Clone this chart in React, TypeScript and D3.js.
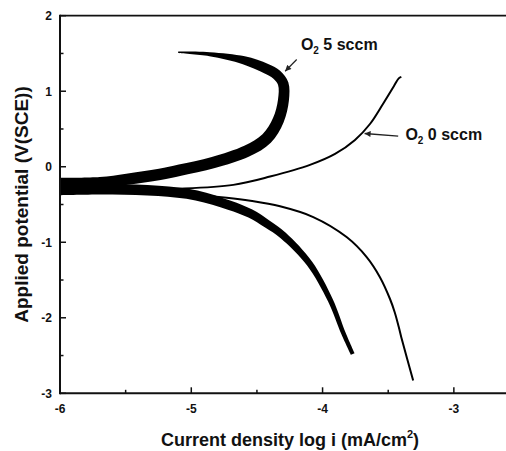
import { useMemo } from 'react';
import * as d3 from 'd3';

const W = 506,
  H = 451;
const FONT = 'Liberation Sans, Arial, Helvetica, sans-serif';

// O2 5 sccm, anodic branch (log i, E)
const anodic5LogI = [-6.0, -5.695, -5.49, -5.24, -5.086, -4.832, -4.578, -4.426, -4.337, -4.298, -4.3, -4.35, -4.43, -4.6, -4.86, -5.1];
const anodic5E = [-0.22, -0.21, -0.165, -0.1, -0.045, 0.056, 0.206, 0.374, 0.617, 0.882, 1.1, 1.22, 1.3, 1.41, 1.49, 1.515];
// O2 5 sccm, cathodic branch
const cathodic5LogI = [-6.0, -5.6, -5.25, -4.96, -4.71, -4.55, -4.42, -4.3, -4.1, -3.94, -3.84, -3.77];
const cathodic5E = [-0.31, -0.3, -0.32, -0.38, -0.51, -0.62, -0.76, -0.91, -1.28, -1.77, -2.21, -2.48];
// O2 0 sccm, anodic branch
const anodic0LogI = [-6.0, -5.5, -5.086, -4.68, -4.4, -4.096, -3.905, -3.753, -3.639, -3.54, -3.456, -3.42, -3.4];
const anodic0E = [-0.3, -0.3, -0.29, -0.24, -0.13, 0.024, 0.169, 0.354, 0.566, 0.831, 1.069, 1.17, 1.19];
// O2 0 sccm, cathodic branch
const cathodic0LogI = [-6.0, -5.5, -5.0, -4.73, -4.55, -4.324, -4.071, -3.817, -3.664, -3.563, -3.487, -3.45, -3.42, -3.4, -3.31];
const cathodic0E = [-0.33, -0.34, -0.37, -0.41, -0.45, -0.524, -0.666, -0.931, -1.196, -1.462, -1.748, -1.93, -2.12, -2.26, -2.83];

const xMajor = [-6, -5, -4, -3];
const xMinor = [-5.5, -4.5, -3.5];
const yMajor = [-3, -2, -1, 0, 1, 2];
const yMinor = [-2.5, -1.5, -0.5, 0.5, 1.5];

export default function App() {
  const x = useMemo(() => d3.scaleLinear().domain([-6, -2.5]).range([60, 519.5]), []);
  const y = useMemo(() => d3.scaleLinear().domain([-3, 2]).range([393.3, 15.7]), []);

  const line = d3.line().curve(d3.curveCatmullRom);

  // thick (scattered) curve drawn as a ribbon whose width follows the path
  const ribbon = (xs, ys, widthAt) => {
    const pts = xs.map((v, i) => [x(v), y(ys[i])]);
    const cum = [0];
    for (let i = 1; i < pts.length; i++) {
      cum.push(cum[i - 1] + Math.hypot(pts[i][0] - pts[i - 1][0], pts[i][1] - pts[i - 1][1]));
    }
    const total = cum[cum.length - 1];
    const left = [],
      right = [];
    pts.forEach((p, i) => {
      const a = pts[Math.max(0, i - 1)];
      const b = pts[Math.min(pts.length - 1, i + 1)];
      let tx = b[0] - a[0],
        ty = b[1] - a[1];
      const L = Math.hypot(tx, ty);
      tx /= L;
      ty /= L;
      const w = widthAt(cum[i] / total) / 2;
      left.push([p[0] - ty * w, p[1] + tx * w]);
      right.push([p[0] + ty * w, p[1] - tx * w]);
    });
    return line(left) + 'L' + line(right.reverse()).slice(1) + 'Z';
  };

  const anodic5Width = d3
    .scaleLinear()
    .domain([0, 0.35, 0.53, 0.66, 0.775, 0.83, 0.92, 1])
    .range([11, 11.5, 12, 11, 10, 8, 4, 1.5])
    .clamp(true);
  const cathodic5Width = d3
    .scaleLinear()
    .domain([0, 0.35, 0.55, 0.75, 1])
    .range([10, 10.5, 8.5, 6, 4])
    .clamp(true);

  const thin = (xs, ys) => line(xs.map((v, i) => [x(v), y(ys[i])]));

  const xAxisEnd = W;

  return (
    <svg
      width={W}
      height={H}
      style={{ position: 'absolute', left: 0, top: 0, background: '#fff' }}
      fontFamily={FONT}
    >
      <defs>
        <marker
          id="ah"
          viewBox="0 0 10 10"
          refX={10}
          refY={5}
          markerUnits="userSpaceOnUse"
          markerWidth={8}
          markerHeight={6}
          orient="auto"
        >
          <path d="M0,0 L10,5 L0,10 z" fill="#222" />
        </marker>
      </defs>

      {/* curves */}
      <path d={ribbon(anodic5LogI, anodic5E, anodic5Width)} fill="#000" />
      <path d={ribbon(cathodic5LogI, cathodic5E, cathodic5Width)} fill="#000" />
      <path d={thin(anodic0LogI, anodic0E)} fill="none" stroke="#000" strokeWidth={2} />
      <path d={thin(cathodic0LogI, cathodic0E)} fill="none" stroke="#000" strokeWidth={2} />

      {/* frame */}
      <line x1={x(-6)} x2={xAxisEnd} y1={y(2)} y2={y(2)} stroke="#111" strokeWidth={1.8} />
      <line x1={x(-6)} x2={xAxisEnd} y1={y(-3)} y2={y(-3)} stroke="#111" strokeWidth={2} />
      <line x1={x(-6)} x2={x(-6)} y1={y(2) - 0.9} y2={y(-3) + 1} stroke="#111" strokeWidth={2} />

      {/* x ticks */}
      {xMajor.map(t => (
        <g key={'xm' + t}>
          <line x1={x(t)} x2={x(t)} y1={y(-3)} y2={y(-3) - 6} stroke="#111" strokeWidth={1.5} />
          <text x={x(t)} y={413} textAnchor="middle" fontSize={12} fontWeight="bold" fill="#111">
            {t}
          </text>
        </g>
      ))}
      {xMinor.map(t => (
        <line key={'xn' + t} x1={x(t)} x2={x(t)} y1={y(-3)} y2={y(-3) - 3.5} stroke="#111" strokeWidth={1.5} />
      ))}

      {/* y ticks */}
      {yMajor.map(t => (
        <g key={'ym' + t}>
          <line x1={x(-6)} x2={x(-6) + 6} y1={y(t)} y2={y(t)} stroke="#111" strokeWidth={1.5} />
          <text x={52} y={y(t) + 4.3} textAnchor="end" fontSize={12} fontWeight="bold" fill="#111">
            {t}
          </text>
        </g>
      ))}
      {yMinor.map(t => (
        <line key={'yn' + t} x1={x(-6)} x2={x(-6) + 3.5} y1={y(t)} y2={y(t)} stroke="#111" strokeWidth={1.5} />
      ))}

      {/* axis titles */}
      <text
        transform={`translate(28,${(y(2) + y(-3)) / 2}) rotate(-90)`}
        textAnchor="middle"
        fontSize={19}
        fontWeight="bold"
        fill="#111"
      >
        Applied potential (V(SCE))
      </text>
      <text x={290} y={446} textAnchor="middle" fontSize={18} fontWeight="bold" fill="#111">
        Current density log i (mA/cm
        <tspan fontSize={11} dy={-8}>
          2
        </tspan>
        <tspan dy={8}>)</tspan>
      </text>

      {/* annotations */}
      <text x={x(-4.165)} y={y(1.545)} fontSize={16} fontWeight="bold" fill="#111">
        O
        <tspan fontSize={10} dy={4}>
          2
        </tspan>
        <tspan dy={-4}>{' 5 sccm'}</tspan>
      </text>
      <line
        x1={x(-4.197)}
        y1={y(1.42)}
        x2={x(-4.285)}
        y2={y(1.265)}
        stroke="#222"
        strokeWidth={1.2}
        markerEnd="url(#ah)"
      />
      <text x={x(-3.369)} y={y(0.351)} fontSize={16} fontWeight="bold" fill="#111">
        O
        <tspan fontSize={10} dy={4}>
          2
        </tspan>
        <tspan dy={-4}>{' 0 sccm'}</tspan>
      </text>
      <line
        x1={x(-3.424)}
        y1={y(0.405)}
        x2={x(-3.68)}
        y2={y(0.44)}
        stroke="#222"
        strokeWidth={1.4}
        markerEnd="url(#ah)"
      />
    </svg>
  );
}
